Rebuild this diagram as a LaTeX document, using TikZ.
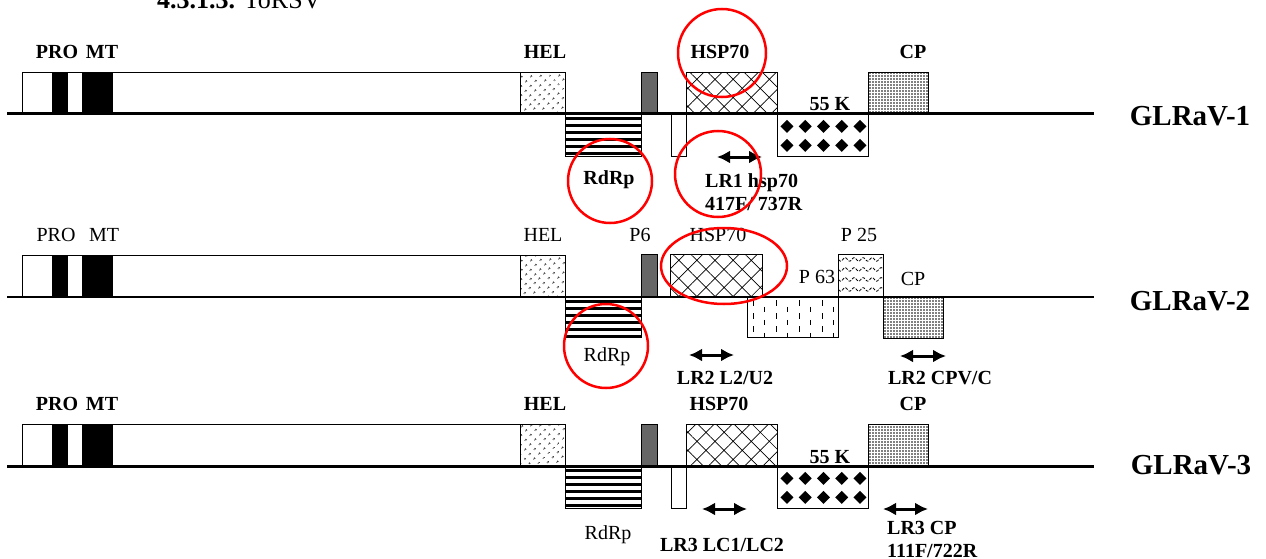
\documentclass[tikz,border=0pt]{standalone}
\usepackage{fontspec}
\setmainfont{Liberation Serif}
\usetikzlibrary{arrows.meta,patterns.meta,shapes.geometric}

\begin{document}
\begin{tikzpicture}[x=1pt, y=-1pt, >={Latex[length=13pt,width=13pt]},
  orf/.style={draw, line width=0.8pt, inner sep=0pt, anchor=north west},
  sz/.style 2 args={minimum width=#1pt, minimum height=#2pt},
  blackbar/.style={fill=black, inner sep=0pt, anchor=north west},
  bar/.style={orf, fill=black!60},
  hel/.style={orf, pattern={Dots[distance=6.5pt, angle=45, radius=1.1pt]}},
  cpd/.style={orf, pattern={Dots[distance=3pt, radius=0.8pt]}},
  hsp/.style={orf, pattern={Hatch[distance=12.8pt, angle=45, line width=0.7pt]}},
  rdrp/.style 2 args={orf, sz={#1}{#2}, path picture={
    \foreach \k in {0,...,5} \fill ({-#1/2},{-#2/2+2.5+7*\k}) rectangle ({#1/2},{-#2/2+6+7*\k});}},
  diam/.style 2 args={orf, sz={#1}{#2}, path picture={
    \foreach \i in {0,...,4} \foreach \j in {0,1}
      \fill ({-#1/2+9.5+18.25*\i},{-#2/2+12+19*\j}) +(-6.5,0) -- +(0,-6.5) -- +(6.5,0) -- +(0,6.5) -- cycle;}},
  dashbox/.style 2 args={orf, sz={#1}{#2}, path picture={
    \foreach \i in {0,...,7} \foreach \j in {0,...,3}
      \draw[line width=1pt] ({-#1/2+6+11.5*\i},{-#2/2+3+13*\j+6.5*mod(\i,2)}) -- +(0,5.5);}},
  wavy/.style 2 args={orf, sz={#1}{#2}, path picture={
    \foreach \j in {0,...,3}
      \draw[line width=0.8pt, dash pattern=on 3pt off 1.5pt] plot[domain=0:#1, samples=40, smooth] ({\x-#1/2},{-#2/2+5+10*\j+1.8*sin(\x*40)});}},
  lab/.style={inner sep=0pt, font=\bfseries\fontsize{20}{23}\selectfont},
  nlab/.style={inner sep=0pt, font=\fontsize{20}{23}\selectfont},
  virus/.style={inner sep=0pt, font=\bfseries\fontsize{29}{32}\selectfont},
  genome/.style={line width=3pt},
  primer/.style={<->, line width=3pt},
  ring/.style={draw=red, line width=2.5pt, inner sep=0pt}]
\useasboundingbox (0,0) rectangle (1266,559);
\node[anchor=base west, inner sep=0pt, font=\fontsize{26}{28}\selectfont] (head) at (157,9) {\textbf{4.3.1.3.} ToRSV};

% GLRaV-1
\node[orf, fill=white, sz={498}{42}] (orf1) at (22,72) {};
\node[blackbar, sz={16}{42}] (pro1b) at (52,72) {};
\node[blackbar, sz={31}{42}] (mt1b) at (82,72) {};
\node[hel, sz={45}{42}] (hel1b) at (520,72) {};
\node[rdrp={76}{42}] (rdrp1b) at (565,114) {};
\node[bar, sz={16}{42}] (p61b) at (641,72) {};
\node[orf, fill=white, sz={15}{42}] (sm1b) at (671,114) {};
\node[hsp, sz={91}{42}] (hsp1b) at (686,72) {};
\node[diam={91}{42}] (k551b) at (777,114) {};
\node[cpd, sz={60}{42}] (cp1b) at (868,72) {};
\coordinate (g1s) at (7,114);
\coordinate (g1e) at (1094,114);
\draw[genome] (g1s) -- (g1e);
\node[lab] (pro1) at (57,52) {PRO};
\node[lab] (mt1) at (102,52) {MT};
\node[lab] (hel1) at (545,52) {HEL};
\node[lab] (hsp1) at (720,52) {HSP70};
\node[lab] (k551) at (830,104) {55 K};
\node[lab] (cp1) at (913,52) {CP};
\node[lab] (rdrp1) at (609,180) {RdRp};
\coordinate (lr1a) at (717,157);
\coordinate (lr1b) at (762,157);
\draw[primer] (lr1a) -- (lr1b);
\node[lab, anchor=west, align=left] (lr1) at (705,192) {LR1 hsp70\\417F/ 737R};
\node[virus] (v1) at (1190,116) {GLRaV-1};

% GLRaV-2
\node[orf, fill=white, sz={498}{42}] (orf2) at (22,255) {};
\node[blackbar, sz={16}{42}] (pro2b) at (52,255) {};
\node[blackbar, sz={31}{42}] (mt2b) at (82,255) {};
\node[hel, sz={45}{42}] (hel2b) at (520,255) {};
\node[rdrp={76}{40}] (rdrp2b) at (565,297) {};
\node[bar, sz={16}{43}] (p62b) at (641,254) {};
\node[hsp, sz={92}{43}] (hsp2b) at (670,254) {};
\node[dashbox={91}{40}] (p632b) at (747,297) {};
\node[wavy={45}{43}] (p252b) at (838,254) {};
\node[cpd, sz={60}{41}] (cp2b) at (883,297) {};
\coordinate (g2s) at (7,297);
\coordinate (g2e) at (1094,297);
\draw[line width=1.6pt] (g2s) -- (g2e);
\node[nlab] (pro2) at (56,235) {PRO};
\node[nlab] (mt2) at (104,235) {MT};
\node[nlab] (hel2) at (543,235) {HEL};
\node[nlab] (p62) at (640,235) {P6};
\node[nlab] (hsp2) at (718,235) {HSP70};
\node[nlab] (p252) at (859,235) {P 25};
\node[nlab] (p632) at (817,277) {P 63};
\node[nlab] (cp2) at (913,279) {CP};
\node[nlab] (rdrp2) at (607,357) {RdRp};
\coordinate (lr2a) at (689,355);
\coordinate (lr2b) at (734,355);
\draw[primer] (lr2a) -- (lr2b);
\node[lab] (lr2) at (725,378) {LR2 L2/U2};
\coordinate (lr2c) at (900,356);
\coordinate (lr2d) at (946,356);
\draw[primer] (lr2c) -- (lr2d);
\node[lab] (lr2cp) at (940,378) {LR2 CPV/C};
\node[virus] (v2) at (1190,301) {GLRaV-2};

% GLRaV-3
\node[orf, fill=white, sz={498}{42}] (orf3) at (22,424) {};
\node[blackbar, sz={16}{42}] (pro3b) at (52,424) {};
\node[blackbar, sz={31}{42}] (mt3b) at (82,424) {};
\node[hel, sz={45}{42}] (hel3b) at (520,424) {};
\node[rdrp={76}{42}] (rdrp3b) at (565,466) {};
\node[bar, sz={16}{42}] (p63b) at (641,424) {};
\node[orf, fill=white, sz={15}{42}] (sm3b) at (671,466) {};
\node[hsp, sz={91}{42}] (hsp3b) at (686,424) {};
\node[diam={91}{42}] (k553b) at (777,466) {};
\node[cpd, sz={60}{42}] (cp3b) at (868,424) {};
\coordinate (g3s) at (7,466);
\coordinate (g3e) at (1094,466);
\draw[genome] (g3s) -- (g3e);
\node[lab] (pro3) at (57,404) {PRO};
\node[lab] (mt3) at (102,404) {MT};
\node[lab] (hel3) at (545,404) {HEL};
\node[lab] (hsp3) at (719,404) {HSP70};
\node[lab] (cp3) at (913,404) {CP};
\node[lab] (k553) at (830,457) {55 K};
\node[nlab] (rdrp3) at (608,535) {RdRp};
\coordinate (lr3a) at (702,509);
\coordinate (lr3b) at (747,509);
\draw[primer] (lr3a) -- (lr3b);
\node[lab] (lr3) at (722,545) {LR3 LC1/LC2};
\coordinate (lr3c) at (883,509);
\coordinate (lr3d) at (928,509);
\draw[primer] (lr3c) -- (lr3d);
\node[lab, anchor=west, align=left] (lr3cp) at (887,539) {LR3 CP\\111F/722R};
\node[virus] (v3) at (1191,465) {GLRaV-3};

% red marks
\node[ring, circle, minimum size=88pt] (c1) at (722,53) {};
\node[ring, circle, minimum size=84pt] (c2) at (610,181) {};
\node[ring, circle, minimum size=86pt] (c3) at (718,174) {};
\node[ring, ellipse, minimum width=126pt, minimum height=76pt] (c4) at (724,266) {};
\node[ring, circle, minimum size=84pt] (c5) at (606,346) {};
\end{tikzpicture}
\end{document}
